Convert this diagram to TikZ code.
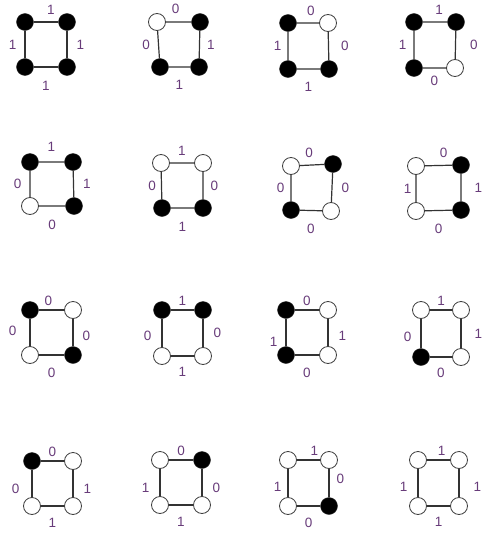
\documentclass[tikz,border=0pt]{standalone}
\usepackage{fontspec}
\setmainfont{Liberation Sans}
\usepackage{tikz}

\definecolor{labpurple}{RGB}{104,60,122}

\tikzset{
  on/.style={circle,draw=black!85,fill=black,minimum size=17pt,inner sep=0pt},
  off/.style={circle,draw=black!75,fill=white,line width=0.8pt,minimum size=17pt,inner sep=0pt},
  edge/.style={draw=black!80,line width=1.2pt},
  lab/.style={text=labpurple,inner sep=0pt,font=\fontsize{13.5}{14}\selectfont},
  lbtop/.style={lab,midway,above=7pt},
  lbtopl/.style={lab,midway,above=3.5pt},
  lbleft/.style={lab,midway,left=8pt},
  lbright/.style={lab,midway,right=9pt},
  lbbot/.style={lab,midway,below=13pt}
}

\begin{document}
\begin{tikzpicture}[x=1pt,y=-1pt]
\useasboundingbox (0,0) rectangle (482,533);

% row 1
\node (a1) at (25,22) [on] {};
\node (b1) at (67,22) [on] {};
\node (c1) at (25,67) [on] {};
\node (d1) at (67,67) [on] {};
\draw[edge] (a1) -- (b1) node[lbtop,xshift=5pt] {1} -- (d1) node[lbright] {1} -- (c1) node[lbbot,yshift=-1pt] {1} -- (a1) node[lbleft] {1};

\node (a2) at (157,22) [off] {};
\node (b2) at (200,22) [on] {};
\node (c2) at (160,67) [on] {};
\node (d2) at (199,67) [on] {};
\draw[edge] (a2) -- (b2) node[lbtop,yshift=1pt,xshift=-3pt] {0} -- (d2) node[lbright,xshift=-2pt] {1} -- (c2) node[lbbot] {1} -- (a2) node[lbleft] {0};

\node (a3) at (288,23) [on] {};
\node (b3) at (328,23) [off] {};
\node (c3) at (288,69) [on] {};
\node (d3) at (329,69) [on] {};
\draw[edge] (a3) -- (b3) node[lbtop,xshift=3pt] {0} -- (d3) node[lbright,xshift=3pt] {0} -- (c3) node[lbbot] {1} -- (a3) node[lbleft,xshift=2pt] {1};

\node (a4) at (414,22) [on] {};
\node (b4) at (456,22) [on] {};
\node (c4) at (414,68) [on] {};
\node (d4) at (455,68) [off] {};
\draw[edge] (a4) -- (b4) node[lbtop,xshift=4pt] {1} -- (d4) node[lbright,xshift=5pt] {0} -- (c4) node[lbbot,yshift=6pt] {0} -- (a4) node[lbleft,xshift=1pt] {1};

% row 2
\node (a5) at (30,162) [on] {};
\node (b5) at (73,162) [on] {};
\node (c5) at (30,206) [off] {};
\node (d5) at (74,206) [on] {};
\draw[edge] (a5) -- (b5) node[lbtop,yshift=3pt] {1} -- (d5) node[lbright] {1} -- (c5) node[lbbot] {0} -- (a5) node[lbleft] {0};

\node (a6) at (161,163) [off] {};
\node (b6) at (203,163) [off] {};
\node (c6) at (162,208) [on] {};
\node (d6) at (203,208) [on] {};
\draw[edge] (a6) -- (b6) node[lbtop] {1} -- (d6) node[lbright,xshift=-2pt] {0} -- (c6) node[lbbot,yshift=-1pt] {1} -- (a6) node[lbleft,xshift=3pt] {0};

\node (a7) at (291,166) [off] {};
\node (b7) at (333,164) [on] {};
\node (c7) at (291,210) [on] {};
\node (d7) at (331,211) [off] {};
\draw[edge] (a7) -- (b7) node[lbtop,xshift=-3pt] {0} -- (d7) node[lbright] {0} -- (c7) node[lbbot] {0} -- (a7) node[lbleft,xshift=2pt] {0};

\node (a8) at (416,166) [off] {};
\node (b8) at (461,165) [on] {};
\node (c8) at (416,211) [off] {};
\node (d8) at (461,210) [on] {};
\draw[edge] (a8) -- (b8) node[lbtop,xshift=5pt] {0} -- (d8) node[lbright,xshift=4pt] {1} -- (c8) node[lbbot] {0} -- (a8) node[lbleft,xshift=4pt] {1};

% row 3
\node (a9) at (30,310) [on] {};
\node (b9) at (73,310) [off] {};
\node (c9) at (30,355) [off] {};
\node (d9) at (73,355) [on] {};
\draw[edge] (a9) -- (b9) node[lbtopl,xshift=-3pt] {0} -- (d9) node[lbright,yshift=-3pt] {0} -- (c9) node[lbbot,yshift=1pt] {0} -- (a9) node[lbleft,xshift=-5pt,yshift=2pt] {0};

\node (a10) at (162,310) [on] {};
\node (b10) at (203,310) [on] {};
\node (c10) at (162,356) [off] {};
\node (d10) at (203,356) [off] {};
\draw[edge] (a10) -- (b10) node[lbtopl] {1} -- (d10) node[lbright,xshift=1pt] {0} -- (c10) node[lbbot,yshift=2pt] {1} -- (a10) node[lbleft,xshift=-2pt,yshift=-3pt] {0};

\node (a11) at (286,310) [on] {};
\node (b11) at (328,310) [off] {};
\node (c11) at (286,355) [on] {};
\node (d11) at (328,355) [off] {};
\draw[edge] (a11) -- (b11) node[lbtopl] {0} -- (d11) node[lbright,xshift=1pt,yshift=-3pt] {1} -- (c11) node[lbbot,yshift=1pt] {0} -- (a11) node[lbleft,yshift=-9pt] {1};

\node (a12) at (421,310) [off] {};
\node (b12) at (461,310) [off] {};
\node (c12) at (421,357) [on] {};
\node (d12) at (461,357) [off] {};
\draw[edge] (a12) -- (b12) node[lbtopl] {1} -- (d12) node[lbright,xshift=4pt] {1} -- (c12) node[lbbot,yshift=3pt] {0} -- (a12) node[lbleft,xshift=-1pt,yshift=-3pt] {0};

% row 4
\node (a13) at (32,461) [on] {};
\node (b13) at (73,461) [off] {};
\node (c13) at (32,506) [off] {};
\node (d13) at (73,506) [off] {};
\draw[edge] (a13) -- (b13) node[lbtopl] {0} -- (d13) node[lbright,xshift=1pt,yshift=-5pt] {1} -- (c13) node[lbbot,yshift=1pt] {1} -- (a13) node[lbleft,xshift=-4pt,yshift=-5pt] {0};

\node (a14) at (160,460) [off] {};
\node (b14) at (202,460) [on] {};
\node (c14) at (160,505) [off] {};
\node (d14) at (202,505) [off] {};
\draw[edge] (a14) -- (b14) node[lbtopl] {0} -- (d14) node[lbright,xshift=1pt,yshift=-5pt] {0} -- (c14) node[lbbot,yshift=1pt] {1} -- (a14) node[lbleft,xshift=-2pt,yshift=-5pt] {1};

\node (a15) at (288,460) [off] {};
\node (b15) at (329,460) [off] {};
\node (c15) at (288,506) [off] {};
\node (d15) at (329,506) [on] {};
\draw[edge] (a15) -- (b15) node[lbtopl,xshift=6pt] {1} -- (d15) node[lbright,xshift=-2pt,yshift=4pt] {0} -- (c15) node[lbbot,yshift=2pt] {0} -- (a15) node[lbleft,xshift=2pt,yshift=-4pt] {1};

\node (a16) at (418,460) [off] {};
\node (b16) at (459,460) [off] {};
\node (c16) at (418,506) [off] {};
\node (d16) at (459,506) [off] {};
\draw[edge] (a16) -- (b16) node[lbtopl,xshift=3pt] {1} -- (d16) node[lbright,xshift=5pt,yshift=-4pt] {1} -- (c16) node[lbbot,yshift=2pt] {1} -- (a16) node[lbleft,xshift=-2pt,yshift=-4pt] {1};

\end{tikzpicture}
\end{document}
